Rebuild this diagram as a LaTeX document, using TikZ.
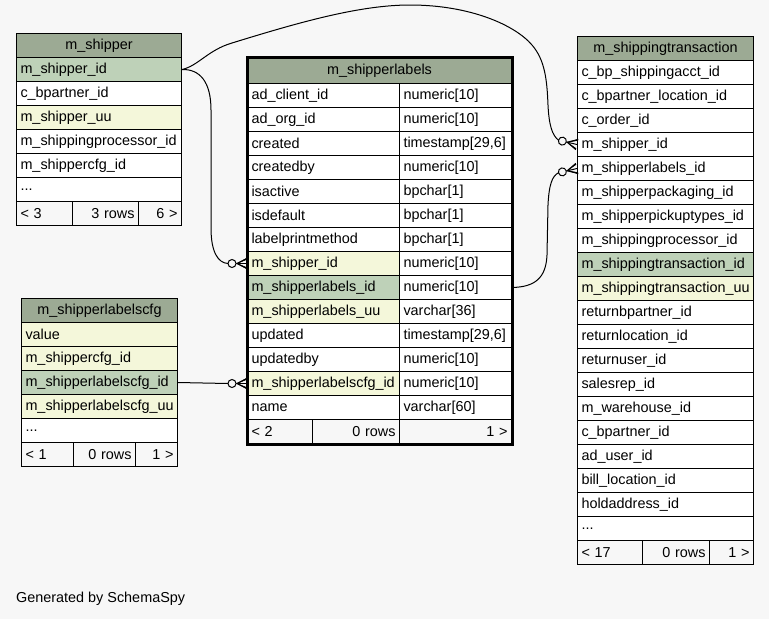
\documentclass[tikz,border=0pt]{standalone}
\usepackage{fontspec}
\setmainfont{Liberation Sans}
\usetikzlibrary{calc}
\definecolor{bg}{HTML}{F7F7F7}
\definecolor{hdr}{HTML}{9CAA94}
\definecolor{pk}{HTML}{BED1B8}
\definecolor{idx}{HTML}{F4F7DA}
\tikzset{
  cell/.style={draw=black, line width=1pt, anchor=north west, inner xsep=4pt, inner ysep=0pt,
    minimum height=24pt, font=\fontsize{14.4}{16}\selectfont, align=left, fill=white},
  edge/.style={draw=black, line width=1pt},
  crowodot/.pic={
    \fill[black] (-10,0) -- (0,-5.8) -- (0,-3.8) -- cycle;
    \fill[black] (-10,0) -- (0,5.8) -- (0,3.8) -- cycle;
    \draw[edge, line width=1.2pt] (-10,0) -- (0,-5) (-10,0) -- (0,5);
    \draw[edge] (-11,0) -- (0,0);
    \draw[edge, fill=bg] (-15,0) circle (4pt);
    \coordinate (-tail) at (-19,0);
  }
}
% \tcell{fill}{name}{x}{y}{textwidth}{align}{text}
\newcommand{\tcell}[7]{\node[cell, fill=#1, text width=#5pt, align=#6] (#2) at (#3,#4) {#7};}
\begin{document}
\begin{tikzpicture}[x=1pt,y=-1pt]
\fill[bg] (0,0) rectangle (769,619);
\useasboundingbox (0,0) rectangle (769,619);

% ---------- m_shipper ----------
\tcell{hdr}{shh}{16}{33}{157}{center}{m\_shipper}
\tcell{pk}{shid}{16}{57}{157}{left}{m\_shipper\_id}
\tcell{white}{sh2}{16}{81}{157}{left}{c\_bpartner\_id}
\tcell{idx}{sh3}{16}{105}{157}{left}{m\_shipper\_uu}
\tcell{white}{sh4}{16}{129}{157}{left}{m\_shippingprocessor\_id}
\tcell{white}{sh5}{16}{153}{157}{left}{m\_shippercfg\_id}
\tcell{white}{sh6}{16}{177}{157}{left}{...}
\tcell{bg}{shf1}{16}{201}{48}{left}{< 3}
\tcell{bg}{shf2}{72}{201}{58}{right}{3 rows}
\tcell{bg}{shf3}{138}{201}{35}{right}{6 >}

% ---------- m_shipperlabelscfg ----------
\tcell{hdr}{cfh}{21}{298}{148}{center}{m\_shipperlabelscfg}
\tcell{idx}{cf1}{21}{322}{148}{left}{value}
\tcell{idx}{cf2}{21}{346}{148}{left}{m\_shippercfg\_id}
\tcell{pk}{cfid}{21}{370}{148}{left}{m\_shipperlabelscfg\_id}
\tcell{idx}{cf4}{21}{394}{148}{left}{m\_shipperlabelscfg\_uu}
\tcell{white}{cf5}{21}{418}{148}{left}{...}
\tcell{bg}{cff1}{21}{442}{44}{left}{< 1}
\tcell{bg}{cff2}{73}{442}{54}{right}{0 rows}
\tcell{bg}{cff3}{135}{442}{34}{right}{1 >}

% ---------- m_shipperlabels ----------
\node[cell, fill=hdr, text width=256pt, align=center, minimum height=26pt] (slh) at (247,57) {m\_shipperlabels};
\tcell{white}{sla1}{247}{83}{144}{left}{ad\_client\_id}
\tcell{white}{slb1}{399}{83}{104}{left}{numeric[10]}
\tcell{white}{sla2}{247}{107}{144}{left}{ad\_org\_id}
\tcell{white}{slb2}{399}{107}{104}{left}{numeric[10]}
\tcell{white}{sla3}{247}{131}{144}{left}{created}
\tcell{white}{slb3}{399}{131}{104}{left}{timestamp[29,6]}
\tcell{white}{sla4}{247}{155}{144}{left}{createdby}
\tcell{white}{slb4}{399}{155}{104}{left}{numeric[10]}
\tcell{white}{sla5}{247}{179}{144}{left}{isactive}
\tcell{white}{slb5}{399}{179}{104}{left}{bpchar[1]}
\tcell{white}{sla6}{247}{203}{144}{left}{isdefault}
\tcell{white}{slb6}{399}{203}{104}{left}{bpchar[1]}
\tcell{white}{sla7}{247}{227}{144}{left}{labelprintmethod}
\tcell{white}{slb7}{399}{227}{104}{left}{bpchar[1]}
\tcell{idx}{slshid}{247}{251}{144}{left}{m\_shipper\_id}
\tcell{white}{slb8}{399}{251}{104}{left}{numeric[10]}
\tcell{pk}{slid}{247}{275}{144}{left}{m\_shipperlabels\_id}
\tcell{white}{slidt}{399}{275}{104}{left}{numeric[10]}
\tcell{idx}{sla10}{247}{299}{144}{left}{m\_shipperlabels\_uu}
\tcell{white}{slb10}{399}{299}{104}{left}{varchar[36]}
\tcell{white}{sla11}{247}{323}{144}{left}{updated}
\tcell{white}{slb11}{399}{323}{104}{left}{timestamp[29,6]}
\tcell{white}{sla12}{247}{347}{144}{left}{updatedby}
\tcell{white}{slb12}{399}{347}{104}{left}{numeric[10]}
\tcell{idx}{slcfg}{247}{371}{144}{left}{m\_shipperlabelscfg\_id}
\tcell{white}{slb13}{399}{371}{104}{left}{numeric[10]}
\tcell{white}{sla14}{247}{395}{144}{left}{name}
\tcell{white}{slb14}{399}{395}{104}{left}{varchar[60]}
\tcell{bg}{slf1}{247}{419}{57}{left}{< 2}
\tcell{bg}{slf2}{312}{419}{79}{right}{0 rows}
\tcell{bg}{slf3}{399}{419}{104}{right}{1 >}

% ---------- m_shippingtransaction ----------
\tcell{hdr}{sth}{577}{36}{168}{center}{m\_shippingtransaction}
\tcell{white}{st1}{577}{60}{168}{left}{c\_bp\_shippingacct\_id}
\tcell{white}{st2}{577}{84}{168}{left}{c\_bpartner\_location\_id}
\tcell{white}{st3}{577}{108}{168}{left}{c\_order\_id}
\tcell{white}{stshid}{577}{132}{168}{left}{m\_shipper\_id}
\tcell{white}{stslid}{577}{156}{168}{left}{m\_shipperlabels\_id}
\tcell{white}{st6}{577}{180}{168}{left}{m\_shipperpackaging\_id}
\tcell{white}{st7}{577}{204}{168}{left}{m\_shipperpickuptypes\_id}
\tcell{white}{st8}{577}{228}{168}{left}{m\_shippingprocessor\_id}
\tcell{pk}{st9}{577}{252}{168}{left}{m\_shippingtransaction\_id}
\tcell{idx}{st10}{577}{276}{168}{left}{m\_shippingtransaction\_uu}
\tcell{white}{st11}{577}{300}{168}{left}{returnbpartner\_id}
\tcell{white}{st12}{577}{324}{168}{left}{returnlocation\_id}
\tcell{white}{st13}{577}{348}{168}{left}{returnuser\_id}
\tcell{white}{st14}{577}{372}{168}{left}{salesrep\_id}
\tcell{white}{st15}{577}{396}{168}{left}{m\_warehouse\_id}
\tcell{white}{st16}{577}{420}{168}{left}{c\_bpartner\_id}
\tcell{white}{st17}{577}{444}{168}{left}{ad\_user\_id}
\tcell{white}{st18}{577}{468}{168}{left}{bill\_location\_id}
\tcell{white}{st19}{577}{492}{168}{left}{holdaddress\_id}
\tcell{white}{st20}{577}{516}{168}{left}{...}
\tcell{bg}{stf1}{577}{540}{57}{left}{< 17}
\tcell{bg}{stf2}{642}{540}{59}{right}{0 rows}
\tcell{bg}{stf3}{709}{540}{36}{right}{1 >}

% ---------- connectors ----------
\pic (e1) at (slshid.west) {crowodot};
\pic (e4) at (slcfg.west) {crowodot};
\pic[rotate=-13] (e2) at (stshid.west) {crowodot};
\pic[rotate=13] (e3) at (stslid.west) {crowodot};

\draw[edge] (shid.east) .. controls (200,69) and (211,82) .. (211,110)
  -- (211,228) .. controls (211,252) and (218,263) .. (e1-tail);
\draw[edge] (shid.east) .. controls (198,66) and (208,50) .. (232,43)
  .. controls (300,22) and (360,5) .. (410,5)
  .. controls (470,5) and (515,25) .. (532,45)
  .. controls (545,60) and (547,80) .. (548,105)
  .. controls (549,125) and (552,135) .. (e2-tail);
\draw[edge] (slidt.east) .. controls (535,287) and (546,278) .. (547,255)
  -- (548,205) .. controls (549,185) and (552,176) .. (e3-tail);
\draw[edge] (cfid.east) -- (e4-tail);

% thick border of focus table
\draw[line width=3pt] (slh.north west) rectangle (slf3.south east);

\node[anchor=west, font=\fontsize{14.4}{16}\selectfont, inner sep=0pt] (gen) at (16,599) {Generated by SchemaSpy};
\end{tikzpicture}
\end{document}
